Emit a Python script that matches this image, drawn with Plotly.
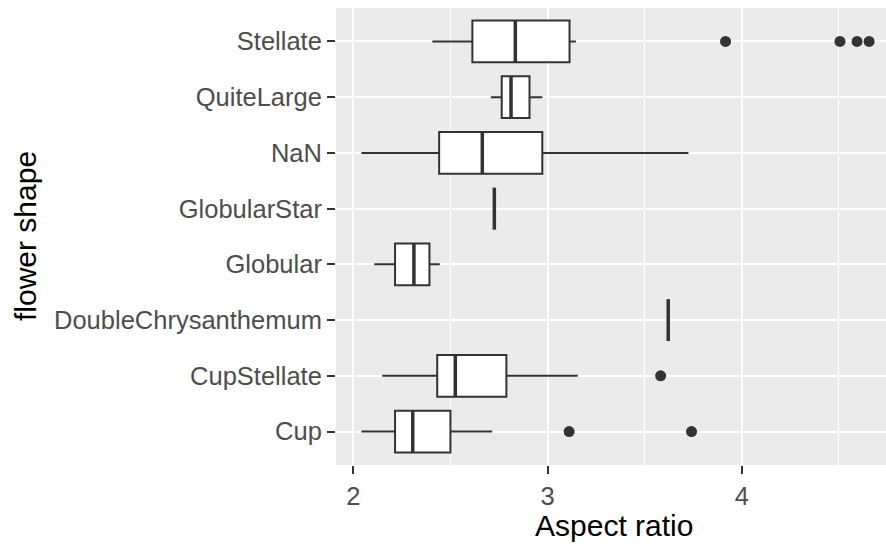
import plotly.graph_objects as go

# ---- data ----
categories = ["Cup", "CupStellate", "DoubleChrysanthemum", "Globular",
              "GlobularStar", "NaN", "QuiteLarge", "Stellate"]
lower_whisker = [2.042, 2.149, 3.621, 2.108, 2.726, 2.042, 2.708, 2.407]
q1_values     = [2.215, 2.432, 3.621, 2.215, 2.726, 2.442, 2.764, 2.613]
median_values = [2.306, 2.525, 3.621, 2.312, 2.726, 2.664, 2.812, 2.834]
q3_values     = [2.500, 2.788, 3.621, 2.392, 2.726, 2.973, 2.907, 3.113]
upper_whisker = [2.715, 3.155, 3.621, 2.445, 2.726, 3.725, 2.973, 3.146]
outlier_cat   = ["Cup", "Cup", "CupStellate", "Stellate", "Stellate", "Stellate", "Stellate"]
outlier_val   = [3.111, 3.741, 3.582, 3.916, 4.505, 4.593, 4.655]
x_ticks = [2, 3, 4]

# ---- styling ----
LINE = "#333333"
FONT = "Liberation Sans, Arial, sans-serif"
BOX_W = 0.75

pos = list(range(1, len(categories) + 1))
cat_pos = {c: p for c, p in zip(categories, pos)}

fig = go.Figure()
fig.add_trace(go.Box(
    orientation="h",
    y=pos,
    q1=q1_values, median=median_values, q3=q3_values,
    lowerfence=lower_whisker, upperfence=upper_whisker,
    width=BOX_W,
    whiskerwidth=0,
    fillcolor="white",
    line=dict(color=LINE, width=2),
    boxpoints=False,
    showlegend=False,
    hoverinfo="skip",
))

# thicker median lines (ggplot fattens the median)
mx, my = [], []
for p, m in zip(pos, median_values):
    mx += [m, m, None]
    my += [p - BOX_W / 2, p + BOX_W / 2, None]
fig.add_trace(go.Scatter(x=mx, y=my, mode="lines",
                         line=dict(color=LINE, width=3.5),
                         showlegend=False, hoverinfo="skip"))

fig.add_trace(go.Scatter(
    x=outlier_val, y=[cat_pos[c] for c in outlier_cat],
    mode="markers", marker=dict(color=LINE, size=11, line=dict(width=0)),
    showlegend=False, hoverinfo="skip"))

fig.update_layout(
    width=886, height=550,
    margin=dict(l=336, r=0, t=8, b=85),
    paper_bgcolor="white",
    plot_bgcolor="#EBEBEB",
    font=dict(family=FONT),
    xaxis=dict(
        range=[1.911, 4.742],
        tickvals=x_ticks, ticktext=[str(v) for v in x_ticks],
        ticks="outside", ticklen=8, tickwidth=2, tickcolor=LINE,
        tickfont=dict(size=25.5, color="#4D4D4D", family=FONT),
        showgrid=True, gridcolor="white", gridwidth=2,
        minor=dict(dtick=0.5, tick0=2, showgrid=True, gridcolor="white", gridwidth=1.2),
        zeroline=False, showline=False,
    ),
    yaxis=dict(
        range=[0.4, 8.6],
        tickvals=pos, ticktext=categories,
        ticks="outside", ticklen=8, tickwidth=2, tickcolor=LINE,
        tickfont=dict(size=25.5, color="#4D4D4D", family=FONT),
        showgrid=True, gridcolor="white", gridwidth=2,
        zeroline=False, showline=False,
    ),
    annotations=[
        dict(text="Aspect ratio", xref="paper", yref="paper",
             x=0.5055, y=-0.133, xanchor="center", yanchor="middle",
             showarrow=False, font=dict(size=30, color="black", family=FONT)),
        dict(text="flower shape", xref="paper", yref="paper",
             x=-0.5655, y=0.501, xanchor="center", yanchor="middle",
             textangle=-90, showarrow=False,
             font=dict(size=30, color="black", family=FONT)),
    ],
)

fig.write_html("out.html")
